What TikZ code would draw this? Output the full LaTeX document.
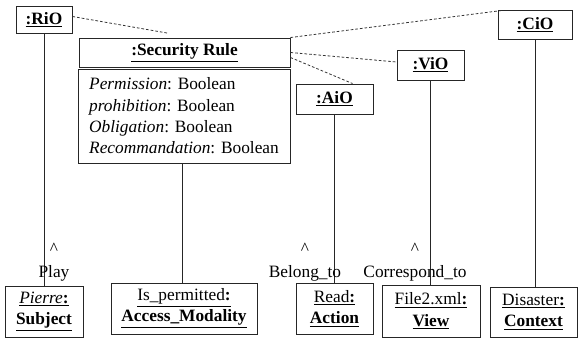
\documentclass[tikz,border=0pt]{standalone}
\usepackage{fontspec}
\setmainfont{Liberation Serif}
\usetikzlibrary{positioning,calc}

\begin{document}
\begin{tikzpicture}[x=0.75pt,y=-0.75pt,
    obj/.style={draw=black!85, line width=0.7pt, inner sep=0pt, align=center, font=\fontsize{13}{16}\selectfont},
    link/.style={black!80, line width=0.6pt, dash pattern=on 2pt off 1.5pt},
    life/.style={black!85, line width=0.7pt},
    lbl/.style={font=\fontsize{13}{16}\selectfont, inner sep=0pt}]
    \useasboundingbox (0,0) rectangle (578,341);

    % Rule and its instance objects
    \node[obj, minimum width=42pt, minimum height=20.25pt] (RiO) at (44,19.5) {\underline{\textbf{:RiO}}};
    \node[obj, minimum width=158.25pt, minimum height=21.75pt] (header) at (184.5,52.5) {\underline{\textbf{:Security Rule}}};
    \node[obj, minimum width=159pt, minimum height=70.5pt, align=left] (attr) at (184,116)
        {\textit{Permission}: Boolean\\ \textit{prohibition}: Boolean\\ \textit{Obligation}: Boolean\\ \textit{Recommandation}: Boolean};
    \node[obj, minimum width=57.75pt, minimum height=22.5pt] (AiO) at (334.5,99) {\underline{\textbf{:AiO}}};
    \node[obj, minimum width=50.25pt, minimum height=22.5pt] (ViO) at (430.5,65) {\underline{\textbf{:ViO}}};
    \node[obj, minimum width=55.5pt, minimum height=21.75pt] (CiO) at (535,24.5) {\underline{\textbf{:CiO}}};

    % Concrete entities
    \node[obj, minimum width=58.5pt, minimum height=38.25pt] (subject) at (44,311.5)
        {\underline{\textit{Pierre}\textbf{:}}\\ \underline{\textbf{Subject}}};
    \node[obj, minimum width=109.5pt, minimum height=38.25pt] (modality) at (184,308.5)
        {\underline{Is\_permitted\textbf{:}}\\ \underline{\textbf{Access\_Modality}}};
    \node[obj, minimum width=57.75pt, minimum height=38.25pt] (action) at (334.5,308.5)
        {\underline{Read\textbf{:}}\\ \underline{\textbf{Action}}};
    \node[obj, minimum width=73.5pt, minimum height=39pt] (view) at (431,311)
        {\underline{File2.xml\textbf{:}}\\ \underline{\textbf{View}}};
    \node[obj, minimum width=65.25pt, minimum height=37.5pt] (context) at (533.5,312)
        {\underline{Disaster\textbf{:}}\\ \underline{\textbf{Context}}};

    % dashed links
    \coordinate (rk) at (167,33);
    \draw[link] ($(RiO.east)+(0,-3)$) -- (rk);
    \draw[link] (header.north east) -- ($(CiO.north west)+(4,1)$);
    \draw[link] (header.east) -- ($(ViO.west)+(0,-3)$);
    \draw[link] ($(header.east)+(0,5)$) -- ($(AiO.north)+(18,0)$);

    % vertical links
    \draw[life] (RiO.south) -- (RiO.south |- subject.north);
    \draw[life] ([xshift=-1]attr.south) -- ([xshift=-1]attr.south |- modality.north);
    \draw[life] (AiO.south) -- (AiO.south |- action.north);
    \draw[life] (ViO.south) -- (ViO.south |- view.north);
    \draw[life] (CiO.south) -- (CiO.south |- context.north);

    % role labels
    \foreach \n/\x/\t in {play/54/Play, belong/305/Belong\_to, corr/415/Correspond\_to} {
        \node[lbl] (\n-up) at (\x,249) {\textasciicircum};
        \node[lbl] (\n) at (\x,273) {\t};
    }
\end{tikzpicture}
\end{document}
